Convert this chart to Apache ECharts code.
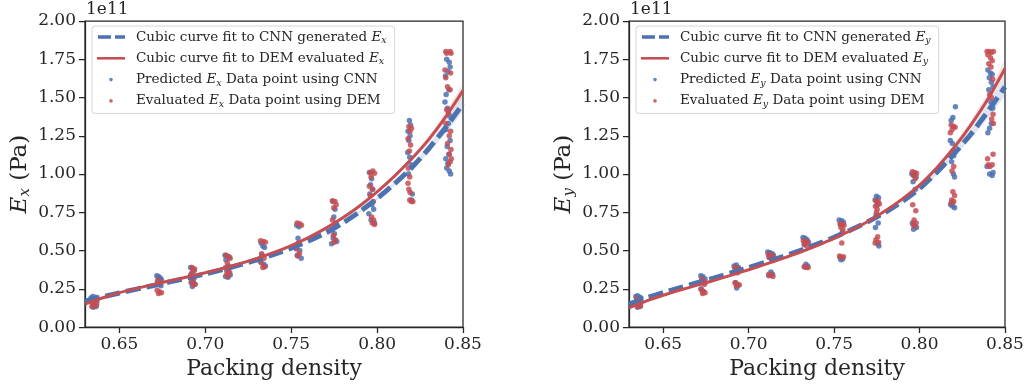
<!DOCTYPE html>
<html>
<head>
<meta charset="utf-8">
<script src="https://cdn.jsdelivr.net/npm/echarts@6/dist/echarts.min.js"></script>
<style>
  html, body { margin: 0; padding: 0; background: #fff; }
  #chart { width: 1031px; height: 385px; }
</style>
</head>
<body>
<div id="chart"></div>
<script>
// fitted cubic curves, every 0.01
const fitX = [0.63, 0.64, 0.65, 0.66, 0.67, 0.68, 0.69, 0.70, 0.71, 0.72, 0.73, 0.74,
  0.75, 0.76, 0.77, 0.78, 0.79, 0.80, 0.81, 0.82, 0.83, 0.84, 0.85]
const cnnFitEx = [0.170, 0.197, 0.223, 0.248, 0.272, 0.297, 0.322, 0.348, 0.376, 0.406, 0.439, 0.475,
  0.516, 0.562, 0.615, 0.680, 0.755, 0.840, 0.935, 1.040, 1.165, 1.305, 1.460]
const demFitEx = [0.150, 0.190, 0.225, 0.253, 0.279, 0.304, 0.329, 0.355, 0.383, 0.414, 0.449, 0.488,
  0.533, 0.585, 0.645, 0.714, 0.793, 0.884, 0.985, 1.098, 1.225, 1.375, 1.545]
const cnnFitEy = [0.150, 0.190, 0.225, 0.258, 0.290, 0.322, 0.355, 0.389, 0.424, 0.461, 0.500, 0.542,
  0.587, 0.636, 0.690, 0.750, 0.822, 0.905, 1.010, 1.130, 1.260, 1.410, 1.570]
const demFitEy = [0.125, 0.170, 0.208, 0.242, 0.274, 0.306, 0.340, 0.375, 0.411, 0.449, 0.489, 0.533,
  0.580, 0.633, 0.692, 0.760, 0.838, 0.928, 1.040, 1.170, 1.320, 1.490, 1.690]

// confidence band half widths from 0.78 to 0.85
const bandX = [0.78, 0.79, 0.80, 0.81, 0.82, 0.83, 0.84, 0.85]
const cnnBandEx = [0.007, 0.008, 0.010, 0.014, 0.019, 0.026, 0.036, 0.052]
const demBandEx = [0.006, 0.007, 0.009, 0.012, 0.016, 0.022, 0.030, 0.045]
const cnnBandEy = [0.008, 0.009, 0.012, 0.016, 0.022, 0.030, 0.043, 0.060]
const demBandEy = [0.007, 0.008, 0.010, 0.014, 0.020, 0.028, 0.040, 0.058]

// scatter points [packing density, E / 1e11]
const cnnPtsEx = [
  [0.6335, 0.19], [0.6345, 0.20], [0.6355, 0.18], [0.6362, 0.195], [0.6370, 0.17], [0.6340, 0.16], [0.6352, 0.145], [0.6365, 0.135], [0.6348, 0.13],
  [0.6718, 0.335], [0.6728, 0.33], [0.6738, 0.32], [0.6745, 0.31], [0.6722, 0.30], [0.6735, 0.28], [0.6742, 0.27],
  [0.6915, 0.39], [0.6925, 0.385], [0.6935, 0.37], [0.6920, 0.35], [0.6930, 0.30], [0.6940, 0.28], [0.6925, 0.265], [0.6918, 0.29],
  [0.7115, 0.47], [0.7128, 0.465], [0.7140, 0.455], [0.7120, 0.44], [0.7135, 0.40], [0.7125, 0.37], [0.7145, 0.34], [0.7118, 0.33], [0.7132, 0.325],
  [0.7325, 0.55], [0.7335, 0.53], [0.7345, 0.52], [0.7330, 0.47], [0.7320, 0.43], [0.7340, 0.41], [0.7350, 0.40],
  [0.7532, 0.665], [0.7545, 0.655], [0.7540, 0.58], [0.7528, 0.52], [0.7550, 0.50], [0.7535, 0.47], [0.7558, 0.45],
  [0.7742, 0.82], [0.7755, 0.77], [0.7748, 0.72], [0.7760, 0.68], [0.7738, 0.64], [0.7752, 0.61], [0.7745, 0.58], [0.7735, 0.545], [0.7765, 0.56],
  [0.7955, 1.01], [0.7968, 0.97], [0.7962, 0.93], [0.7975, 0.90], [0.7958, 0.87], [0.7970, 0.80], [0.7980, 0.77], [0.7952, 0.74], [0.7965, 0.70], [0.7985, 0.68],
  [0.8188, 1.35], [0.8195, 1.32], [0.8180, 1.28], [0.8192, 1.25], [0.8185, 1.22], [0.8178, 1.14], [0.8190, 1.11], [0.8198, 1.06], [0.8183, 1.00], [0.8205, 0.87], [0.8200, 0.83],
  [0.8405, 1.75], [0.8420, 1.73], [0.8425, 1.70], [0.8412, 1.67], [0.8398, 1.64], [0.8418, 1.55], [0.8402, 1.52], [0.8395, 1.47], [0.8410, 1.43], [0.8422, 1.38],
  [0.8415, 1.33], [0.8400, 1.29], [0.8425, 1.22], [0.8408, 1.18], [0.8418, 1.13], [0.8400, 1.10], [0.8412, 1.07], [0.8405, 1.04], [0.8420, 1.02], [0.8428, 1.00]
]
const demPtsEx = [
  [0.6338, 0.18], [0.6350, 0.17], [0.6360, 0.165], [0.6345, 0.155], [0.6368, 0.15], [0.6355, 0.14], [0.6340, 0.135],
  [0.6725, 0.31], [0.6740, 0.29], [0.6730, 0.28], [0.6720, 0.24], [0.6735, 0.23], [0.6745, 0.225], [0.6728, 0.22],
  [0.6922, 0.39], [0.6938, 0.38], [0.6928, 0.365], [0.6915, 0.34], [0.6935, 0.32], [0.6920, 0.30], [0.6940, 0.28], [0.6930, 0.275],
  [0.7120, 0.47], [0.7138, 0.46], [0.7145, 0.45], [0.7128, 0.42], [0.7118, 0.39], [0.7135, 0.37], [0.7142, 0.355], [0.7125, 0.345], [0.7130, 0.33],
  [0.7322, 0.565], [0.7338, 0.56], [0.7350, 0.555], [0.7328, 0.48], [0.7342, 0.45], [0.7325, 0.42], [0.7345, 0.395], [0.7335, 0.39],
  [0.7535, 0.68], [0.7550, 0.675], [0.7560, 0.665], [0.7542, 0.55], [0.7530, 0.51], [0.7548, 0.48], [0.7538, 0.465],
  [0.7740, 0.825], [0.7755, 0.82], [0.7762, 0.80], [0.7748, 0.78], [0.7740, 0.70], [0.7755, 0.66], [0.7745, 0.60], [0.7758, 0.57], [0.7750, 0.555],
  [0.7960, 1.01], [0.7975, 1.02], [0.7985, 1.005], [0.7965, 0.98], [0.7955, 0.92], [0.7972, 0.90], [0.7960, 0.86], [0.7978, 0.82], [0.7968, 0.72], [0.7980, 0.70], [0.7972, 0.68], [0.7985, 0.67],
  [0.8185, 1.31], [0.8200, 1.30], [0.8192, 1.28], [0.8180, 1.23], [0.8195, 1.19], [0.8188, 1.15], [0.8182, 1.04], [0.8190, 0.98], [0.8180, 0.94], [0.8185, 0.90], [0.8192, 0.88], [0.8190, 0.83], [0.8200, 0.82], [0.8208, 0.82],
  [0.8400, 1.80], [0.8405, 1.79], [0.8425, 1.80], [0.8430, 1.79], [0.8395, 1.68], [0.8428, 1.66], [0.8400, 1.63], [0.8410, 1.57], [0.8425, 1.55], [0.8405, 1.42],
  [0.8415, 1.40], [0.8400, 1.33], [0.8428, 1.28], [0.8420, 1.25], [0.8410, 1.20], [0.8430, 1.16], [0.8420, 1.13], [0.8432, 1.10], [0.8425, 1.08], [0.8415, 1.06]
]
const cnnPtsEy = [
  [0.6340, 0.20], [0.6350, 0.205], [0.6362, 0.195], [0.6370, 0.19], [0.6345, 0.175], [0.6358, 0.15], [0.6365, 0.135], [0.6350, 0.13],
  [0.6720, 0.335], [0.6732, 0.33], [0.6745, 0.315], [0.6728, 0.305], [0.6740, 0.29], [0.6722, 0.25], [0.6735, 0.235],
  [0.6915, 0.40], [0.6928, 0.405], [0.6940, 0.39], [0.6922, 0.375], [0.6935, 0.36], [0.6925, 0.29], [0.6938, 0.275], [0.6930, 0.255],
  [0.7112, 0.49], [0.7125, 0.485], [0.7138, 0.48], [0.7145, 0.47], [0.7120, 0.455], [0.7130, 0.36], [0.7140, 0.345], [0.7118, 0.335],
  [0.7318, 0.585], [0.7330, 0.58], [0.7342, 0.57], [0.7350, 0.555], [0.7325, 0.54], [0.7335, 0.41], [0.7345, 0.40], [0.7328, 0.395],
  [0.7530, 0.70], [0.7545, 0.695], [0.7555, 0.685], [0.7538, 0.67], [0.7548, 0.62], [0.7535, 0.455], [0.7550, 0.445], [0.7540, 0.44],
  [0.7748, 0.855], [0.7760, 0.845], [0.7740, 0.83], [0.7752, 0.80], [0.7745, 0.73], [0.7758, 0.68], [0.7742, 0.65], [0.7755, 0.545], [0.7762, 0.53],
  [0.7955, 1.00], [0.7968, 0.99], [0.7980, 0.98], [0.7962, 0.95], [0.7975, 0.90], [0.7958, 0.68], [0.7970, 0.66], [0.7982, 0.65], [0.7965, 0.64],
  [0.8210, 1.44], [0.8195, 1.37], [0.8185, 1.35], [0.8180, 1.22], [0.8192, 1.20], [0.8200, 1.12], [0.8188, 1.08], [0.8198, 1.00], [0.8205, 0.98], [0.8182, 0.80], [0.8195, 0.79], [0.8205, 0.78], [0.8190, 0.815],
  [0.8400, 1.68], [0.8415, 1.66], [0.8425, 1.65], [0.8408, 1.63], [0.8420, 1.60], [0.8430, 1.57], [0.8405, 1.55], [0.8418, 1.47], [0.8428, 1.43], [0.8410, 1.30],
  [0.8400, 1.27], [0.8420, 1.33], [0.8395, 1.05], [0.8410, 1.00], [0.8430, 1.01], [0.8425, 0.99]
]
const demPtsEy = [
  [0.6345, 0.185], [0.6355, 0.175], [0.6365, 0.17], [0.6348, 0.155], [0.6360, 0.145], [0.6352, 0.135], [0.6368, 0.14],
  [0.6725, 0.315], [0.6738, 0.30], [0.6728, 0.29], [0.6742, 0.28], [0.6722, 0.245], [0.6735, 0.23], [0.6745, 0.225], [0.6730, 0.22],
  [0.6918, 0.39], [0.6930, 0.385], [0.6942, 0.38], [0.6925, 0.37], [0.6935, 0.355], [0.6920, 0.29], [0.6932, 0.28], [0.6945, 0.275], [0.6928, 0.27],
  [0.7115, 0.475], [0.7128, 0.47], [0.7140, 0.465], [0.7122, 0.455], [0.7135, 0.445], [0.7145, 0.44], [0.7118, 0.345], [0.7130, 0.34], [0.7142, 0.33],
  [0.7320, 0.565], [0.7332, 0.56], [0.7345, 0.555], [0.7328, 0.54], [0.7340, 0.53], [0.7325, 0.395], [0.7338, 0.39], [0.7348, 0.39],
  [0.7535, 0.675], [0.7548, 0.67], [0.7558, 0.665], [0.7540, 0.65], [0.7552, 0.635], [0.7545, 0.55], [0.7532, 0.465], [0.7542, 0.455], [0.7555, 0.46],
  [0.7745, 0.825], [0.7758, 0.82], [0.7765, 0.805], [0.7742, 0.79], [0.7752, 0.77], [0.7748, 0.75], [0.7755, 0.59], [0.7745, 0.57], [0.7760, 0.555], [0.7740, 0.55],
  [0.7958, 1.015], [0.7970, 1.01], [0.7982, 1.005], [0.7965, 0.99], [0.7975, 0.97], [0.7960, 0.80], [0.7978, 0.76], [0.7968, 0.70], [0.7980, 0.68], [0.7962, 0.67], [0.7972, 0.66],
  [0.8185, 1.32], [0.8198, 1.31], [0.8208, 1.305], [0.8190, 1.29], [0.8180, 1.27], [0.8195, 1.15], [0.8200, 1.05], [0.8190, 1.02], [0.8195, 0.885], [0.8205, 0.86], [0.8188, 0.83], [0.8200, 0.82], [0.8185, 0.81],
  [0.8395, 1.80], [0.8408, 1.80], [0.8420, 1.795], [0.8432, 1.80], [0.8400, 1.78], [0.8415, 1.76], [0.8425, 1.74], [0.8405, 1.72], [0.8418, 1.70], [0.8428, 1.62],
  [0.8410, 1.52], [0.8420, 1.50], [0.8430, 1.39], [0.8422, 1.36], [0.8432, 1.33], [0.8398, 1.10], [0.8430, 1.13], [0.8402, 1.06], [0.8425, 1.06], [0.8412, 1.05]
]

const xTicks = [0.65, 0.70, 0.75, 0.80, 0.85]
const yTicks = ['0.00', '0.25', '0.50', '0.75', '1.00', '1.25', '1.50', '1.75', '2.00']

const FONT = 'DejaVu Serif'
const INK = '#262626'
const BLUE = '#4C72B0'
const RED = '#C44E52'

const pair = (xs, ys) => xs.map((x, i) => [x, ys[i]])

// legend icons (28 x 14 box)
const ICON_DASH = 'path://M0,0M28,14M1,5.2h13v3.6h-13zM18,5.2h10v3.6h-10z'
const ICON_LINE = 'path://M0,0M28,14M0,5.7h28v2.6h-28z'
const ICON_DOT = 'path://M0,0M28,14M12.2,7a1.8,1.8 0 1,0 3.6,0a1.8,1.8 0 1,0 -3.6,0'

const richLegend = name => '{t|' + name.replace(/E_([xy])/, '}{i|E}{s|$1}{t|') + '}'

// band polygon: one custom item holding every [x, lo, hi] row
function bandSeries(idx, fit, half, color) {
  const rows = bandX.map((x, i) => [x, fit[15 + i] - half[i], fit[15 + i] + half[i]])
  return {
    type: 'custom', xAxisIndex: idx, yAxisIndex: idx, silent: true, z: 1,
    data: rows,
    renderItem: (params, api) => {
      if (params.dataIndex !== 0) return null
      const top = rows.map(r => api.coord([r[0], r[2]]))
      const bottom = rows.map(r => api.coord([r[0], r[1]])).reverse()
      return {
        type: 'polygon',
        shape: { points: top.concat(bottom) },
        style: { fill: color }
      }
    },
    encode: { x: 0, y: [1, 2] }
  }
}

function plotSeries(idx, sub, cnnFit, demFit, cnnBand, demBand, cnnPts, demPts) {
  return [
    bandSeries(idx, cnnFit, cnnBand, 'rgba(76,114,176,0.18)'),
    bandSeries(idx, demFit, demBand, 'rgba(196,78,82,0.16)'),
    {
      name: 'Predicted E_' + sub + ' Data point using CNN',
      type: 'scatter', xAxisIndex: idx, yAxisIndex: idx, data: cnnPts,
      symbolSize: 5.5, itemStyle: { color: BLUE, opacity: 0.85 }, z: 2
    },
    {
      name: 'Evaluated E_' + sub + ' Data point using DEM',
      type: 'scatter', xAxisIndex: idx, yAxisIndex: idx, data: demPts,
      symbolSize: 5.5, itemStyle: { color: RED, opacity: 0.85 }, z: 2
    },
    {
      name: 'Cubic curve fit to CNN generated E_' + sub,
      type: 'line', xAxisIndex: idx, yAxisIndex: idx, data: pair(fitX, cnnFit),
      symbol: 'none', smooth: 0.2, color: BLUE,
      lineStyle: { color: BLUE, width: 5, type: [15, 6], cap: 'butt' }, z: 3
    },
    {
      name: 'Cubic curve fit to DEM evaluated E_' + sub,
      type: 'line', xAxisIndex: idx, yAxisIndex: idx, data: pair(fitX, demFit),
      symbol: 'none', smooth: 0.2, color: RED,
      lineStyle: { color: RED, width: 3 }, z: 4
    }
  ]
}

function legendFor(left, sub) {
  return {
    orient: 'vertical', left: left, top: 26,
    itemWidth: 28, itemHeight: 14, itemGap: 5.8,
    padding: [4, 8, 4, 5],
    borderColor: '#d6d6d6', borderWidth: 1, borderRadius: 3,
    backgroundColor: 'rgba(255,255,255,0.8)',
    selectedMode: false,
    formatter: richLegend,
    textStyle: {
      padding: [0, 0, 0, 6],
      rich: {
        t: { fontFamily: FONT, fontSize: 13.5, color: INK },
        i: { fontFamily: FONT, fontSize: 13.5, color: INK, fontStyle: 'italic' },
        s: { fontFamily: FONT, fontSize: 9.5, color: INK, fontStyle: 'italic', padding: [7, 0, 0, 0] }
      }
    },
    data: [
      { name: 'Cubic curve fit to CNN generated E_' + sub, icon: ICON_DASH, itemStyle: { color: BLUE } },
      { name: 'Cubic curve fit to DEM evaluated E_' + sub, icon: ICON_LINE, itemStyle: { color: RED } },
      { name: 'Predicted E_' + sub + ' Data point using CNN', icon: ICON_DOT, itemStyle: { color: BLUE } },
      { name: 'Evaluated E_' + sub + ' Data point using DEM', icon: ICON_DOT, itemStyle: { color: RED } }
    ]
  }
}

const axisLine = { show: true, lineStyle: { color: INK, width: 1.25 } }
const tickStyle = { color: INK, width: 1.25 }
const labelStyle = { fontFamily: FONT, fontSize: 17, color: INK }

function xAxisFor(idx) {
  return {
    type: 'value', gridIndex: idx, min: 0.63, max: 0.85,
    axisLine: axisLine,
    axisTick: { show: true, length: 6, customValues: xTicks, lineStyle: tickStyle },
    axisLabel: { ...labelStyle, margin: 9, customValues: xTicks, formatter: v => v.toFixed(2) },
    splitLine: { show: false },
    name: 'Packing density', nameLocation: 'middle', nameGap: 24,
    nameTextStyle: { fontFamily: FONT, fontSize: 22, color: INK }
  }
}

function yAxisFor(idx, sub) {
  return {
    type: 'value', gridIndex: idx, min: 0, max: 2, interval: 0.25,
    axisLine: axisLine,
    axisTick: { show: true, length: 6, lineStyle: tickStyle },
    axisLabel: { ...labelStyle, margin: 9, formatter: v => yTicks[Math.round(v / 0.25)] },
    splitLine: { show: false },
    name: '{i|E}{s|' + sub + '}{n| (Pa)}', nameLocation: 'middle', nameGap: 52,
    nameTextStyle: {
      fontFamily: FONT, fontSize: 23, color: INK,
      rich: {
        i: { fontFamily: FONT, fontSize: 23, color: INK, fontStyle: 'italic' },
        s: { fontFamily: FONT, fontSize: 15, color: INK, fontStyle: 'italic', padding: [10, 0, 0, 0] },
        n: { fontFamily: FONT, fontSize: 23, color: INK }
      }
    }
  }
}

const chart = echarts.init(document.getElementById('chart'), null, { renderer: 'canvas' })
chart.setOption({
  backgroundColor: '#ffffff',
  animation: false,
  grid: [
    { left: 85, top: 21, width: 378, height: 307, show: true, borderColor: INK, borderWidth: 1.25 },
    { left: 629, top: 21, width: 376, height: 307, show: true, borderColor: INK, borderWidth: 1.25 }
  ],
  xAxis: [xAxisFor(0), xAxisFor(1)],
  yAxis: [yAxisFor(0, 'x'), yAxisFor(1, 'y')],
  legend: [legendFor(92, 'x'), legendFor(636, 'y')],
  graphic: [
    { type: 'text', left: 86, top: 1, style: { text: '1e11', font: '17px "DejaVu Serif"', fill: INK } },
    { type: 'text', left: 630, top: 1, style: { text: '1e11', font: '17px "DejaVu Serif"', fill: INK } }
  ],
  series: [
    ...plotSeries(0, 'x', cnnFitEx, demFitEx, cnnBandEx, demBandEx, cnnPtsEx, demPtsEx),
    ...plotSeries(1, 'y', cnnFitEy, demFitEy, cnnBandEy, demBandEy, cnnPtsEy, demPtsEy)
  ]
})
window.addEventListener('resize', () => chart.resize())
</script>
</body>
</html>
